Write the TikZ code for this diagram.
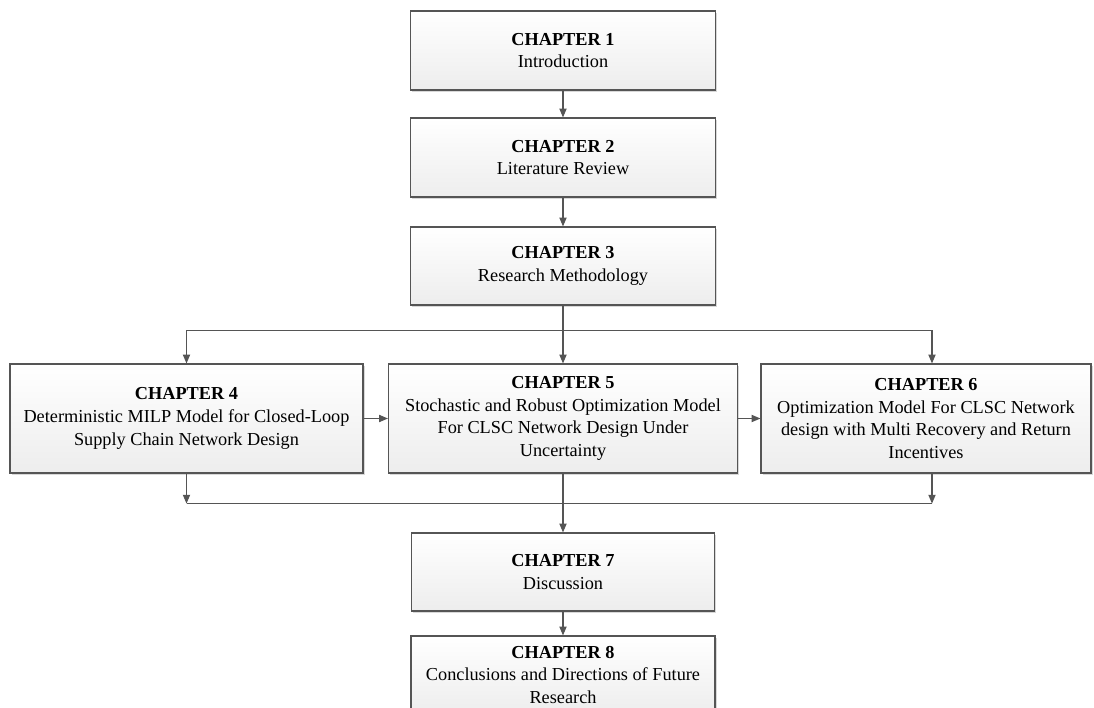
\documentclass[tikz,border=0pt]{standalone}
\usepackage{fontspec}
\setmainfont{Liberation Serif}
\usetikzlibrary{positioning, arrows.meta, shadows, calc}
\definecolor{edge}{HTML}{555555}
\definecolor{shadebot}{HTML}{EDEDED}

\begin{document}
\begin{tikzpicture}[
  x=0.025cm, y=-0.025cm,
  font=\fontsize{13}{16.2}\selectfont,
  chap/.style={draw=edge, line width=0.8pt, top color=white, bottom color=shadebot, align=center, inner sep=2pt, drop shadow={shadow xshift=1.3pt, shadow yshift=-1.3pt, fill=black!30, opacity=0.5}},
  arr/.style={-{Triangle[length=2.2mm, width=1.8mm]}, edge, line width=0.8pt},
  conn/.style={edge, line width=0.8pt}
]
  \useasboundingbox (0,0) rectangle (1094,708);

  % Top column — chapters 1 to 3
  \node[chap, minimum width=7.625cm, minimum height=1.975cm] (ch1) at (563,50.5) {\textbf{CHAPTER 1}\\Introduction};
  \node[chap, minimum width=7.625cm, minimum height=1.975cm] (ch2) at (563,157.5) {\textbf{CHAPTER 2}\\Literature Review};
  \node[chap, minimum width=7.625cm, minimum height=1.95cm] (ch3) at (563,266) {\textbf{CHAPTER 3}\\Research Methodology};

  % Middle row — the three models
  \node[chap, minimum width=8.825cm, minimum height=2.725cm] (ch4) at (186.5,418.5) {\textbf{CHAPTER 4}\\Deterministic MILP Model for Closed-Loop\\Supply Chain Network Design};
  \node[chap, minimum width=8.725cm, minimum height=2.725cm] (ch5) at (563,418.5) {\textbf{CHAPTER 5}\\Stochastic and Robust Optimization Model\\For CLSC Network Design Under\\Uncertainty};
  \node[chap, minimum width=8.25cm, minimum height=2.725cm] (ch6) at (926,418.5) {\textbf{CHAPTER 6}\\Optimization Model For CLSC Network\\design with Multi Recovery and Return\\Incentives};

  % Bottom column — chapters 7 and 8
  \node[chap, minimum width=7.575cm, minimum height=1.95cm] (ch7) at (563,572) {\textbf{CHAPTER 7}\\Discussion};
  \node[chap, minimum width=7.6cm, minimum height=1.95cm] (ch8) at (563,675) {\textbf{CHAPTER 8}\\Conclusions and Directions of Future\\Research};

  % arrows
  \draw[arr] (ch1) -- (ch2);
  \draw[arr] (ch2) -- (ch3);

  \coordinate (split) at ($(ch3.south)+(0,25)$);
  \draw[conn] (ch3.south) -- (split);
  \draw[arr] (split) -| (ch4.north);
  \draw[arr] (split) -- (ch5.north);
  \draw[arr] (split) -| ($(ch6.north)+(6,0)$);

  \draw[arr] (ch4) -- (ch5);
  \draw[arr] (ch5) -- (ch6);

  \coordinate (merge) at ($(ch5.south)+(0,30)$);
  \draw[arr] (ch4.south) -- (ch4.south |- merge);
  \draw[arr] ($(ch6.south)+(6,0)$) -- ($(ch6.south |- merge)+(6,0)$);
  \draw[conn] (ch4.south |- merge) -- ($(ch6.south |- merge)+(6,0)$);
  \draw[arr] (ch5.south) -- (ch7.north);
  \draw[arr] (ch7) -- (ch8);
\end{tikzpicture}
\end{document}
